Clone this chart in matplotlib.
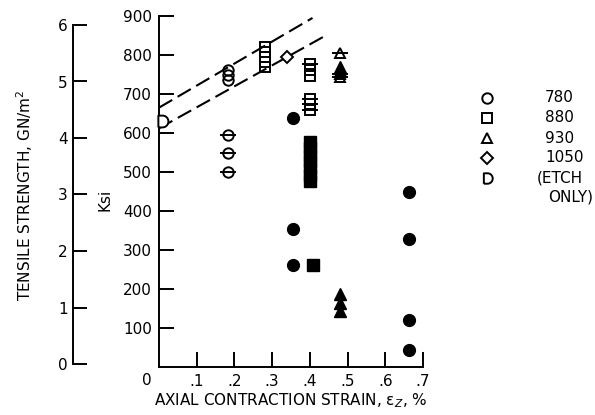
import numpy as np
import matplotlib
matplotlib.use("Agg")
from matplotlib import pyplot as plt
from matplotlib.path import Path
from matplotlib.lines import Line2D

plt.rcParams['font.family'] = ['Liberation Sans Narrow', 'DejaVu Sans']
plt.rcParams['lines.scale_dashes'] = False

# data (ksi vs axial contraction strain, %)
circ_x = [0.183, 0.183, 0.183]
circ_y = [762, 749, 736]
circ_bar_x = [0.183, 0.183, 0.183]
circ_bar_y = [595, 549, 500]
sq_x = [0.281, 0.281, 0.281, 0.281, 0.281, 0.401, 0.401]
sq_y = [820, 808, 795, 782, 768, 762, 745]
sq_bar_x = [0.401, 0.401, 0.401, 0.401]
sq_bar_y = [778, 688, 674, 660]
sq_fill_x = [0.401, 0.401, 0.401, 0.401, 0.401, 0.401, 0.401, 0.408]
sq_fill_y = [578, 561, 544, 527, 510, 493, 477, 262]
dot_x = [0.356, 0.356, 0.356, 0.663, 0.663, 0.663, 0.663]
dot_y = [638, 354, 262, 449, 328, 120, 44]
tri_bar_x = [0.479, 0.479, 0.479]
tri_bar_y = [805, 751, 743]
tri_fill_x = [0.479, 0.479, 0.479, 0.479, 0.479]
tri_fill_y = [768, 758, 187, 164, 144]
dia_x = [0.34]
dia_y = [795]
etch_x = [0.007]
etch_y = [630]
band_upper_x = [0.0, 0.407]
band_upper_y = [665, 895]
band_lower_x = [0.0, 0.444]
band_lower_y = [612, 851]

legend_labels = ['780', '880', '930', '1050', '(ETCH']

# "D" shaped marker
ang = np.linspace(np.pi / 2, -np.pi / 2, 30)
verts = [(-0.7, -1.0), (-0.7, 1.0), (0.0, 1.0)]
verts += list(zip(np.cos(ang), np.sin(ang)))
verts += [(-0.7, -1.0)]
d_marker = Path(verts)

fig = plt.figure(figsize=(5.95, 4.15), dpi=100)
ax = fig.add_axes([159 / 595, 1 - 367 / 415, 264 / 595, 351 / 415])

lw = 1.4
ms = 7.5
ax.plot(band_upper_x, band_upper_y, color='k', lw=1.5, dashes=(11, 4.5))
ax.plot(band_lower_x, band_lower_y, color='k', lw=1.5, dashes=(11, 4.5))

ax.plot(circ_x, circ_y, 'o', mfc='none', mec='k', mew=lw, ms=ms)
ax.plot(circ_bar_x, circ_bar_y, 'o', mfc='white', mec='k', mew=lw, ms=ms)
ax.plot(circ_bar_x, circ_bar_y, '_', mec='k', mew=lw, ms=ms * 1.6)
ax.plot(sq_x, sq_y, 's', mfc='none', mec='k', mew=lw, ms=ms)
ax.plot(sq_bar_x, sq_bar_y, 's', mfc='none', mec='k', mew=lw, ms=ms)
ax.plot(sq_bar_x, sq_bar_y, '_', mec='k', mew=lw, ms=ms * 1.6)
ax.plot(sq_fill_x, sq_fill_y, 's', color='k', ms=ms + 0.5)
ax.plot(dot_x, dot_y, 'o', color='k', ms=ms + 1)
ax.plot(tri_fill_x, tri_fill_y, '^', color='k', ms=ms + 0.5)
ax.plot(tri_bar_x, tri_bar_y, '^', mfc='none', mec='k', mew=lw, ms=ms)
ax.plot(tri_bar_x, tri_bar_y, '_', mec='k', mew=lw, ms=ms * 1.6)
ax.plot(dia_x, dia_y, 'D', mfc='white', mec='k', mew=lw, ms=ms * 0.85, zorder=3)
ax.plot(etch_x, etch_y, marker=d_marker, ls='none', mfc='white', mec='k',
        mew=lw, ms=ms + 1, zorder=3, clip_on=False)

ax.set_xlim(0, 0.7)
ax.set_ylim(0, 900)
ax.set_xticks([0.1, 0.2, 0.3, 0.4, 0.5, 0.6, 0.7])
ax.set_xticklabels(['.1', '.2', '.3', '.4', '.5', '.6', '.7'])
ax.set_yticks([100, 200, 300, 400, 500, 600, 700, 800, 900])
ax.tick_params(direction='in', length=11, width=lw, labelsize=11, pad=5)
for s in ['top', 'right']:
    ax.spines[s].set_visible(False)
for s in ['left', 'bottom']:
    ax.spines[s].set_linewidth(lw)
ax.annotate('0', xy=(0, 0), xycoords='axes fraction', xytext=(-12, -13),
            textcoords='offset pixels', ha='center', va='center', fontsize=11)
ax.set_xlabel('AXIAL CONTRACTION STRAIN, ε$_Z$, %', fontsize=11, labelpad=2)
fig.text(105 / 595, 1 - 200 / 415, 'Ksi', rotation=90, ha='center',
         va='center', fontsize=11)

# GN/m^2 scale
ax2 = fig.add_axes([73 / 595, 1 - 364 / 415, 0.02, 339 / 415])
ax2.set_ylim(0, 6)
ax2.set_yticks([0, 1, 2, 3, 4, 5, 6])
ax2.set_xticks([])
ax2.patch.set_visible(False)
for s in ['top', 'right', 'bottom']:
    ax2.spines[s].set_visible(False)
ax2.spines['left'].set_linewidth(lw)
ax2.tick_params(direction='in', length=10, width=lw, labelsize=11, pad=4)
fig.text(25 / 595, 1 - 195 / 415, 'TENSILE STRENGTH, GN/m$^2$', rotation=90,
         ha='center', va='center', fontsize=11)

# key
key_markers = ['o', 's', '^', 'D', d_marker]
for i, (m, lab) in enumerate(zip(key_markers, legend_labels)):
    y = 1 - (98 + 20 * i) / 415
    mss = ms * 0.85 if m == 'D' else ms
    fig.add_artist(Line2D([487 / 595], [y], transform=fig.transFigure,
                          marker=m, ls='none', mfc='none', mec='k', mew=lw,
                          ms=mss))
    x = 537 / 595 if i == 4 else 545 / 595
    fig.text(x, y, lab, ha='left', va='center', fontsize=11)
fig.text(548 / 595, 1 - 197 / 415, 'ONLY)', ha='left', va='center', fontsize=11)

fig.savefig('out.png', dpi=100)
